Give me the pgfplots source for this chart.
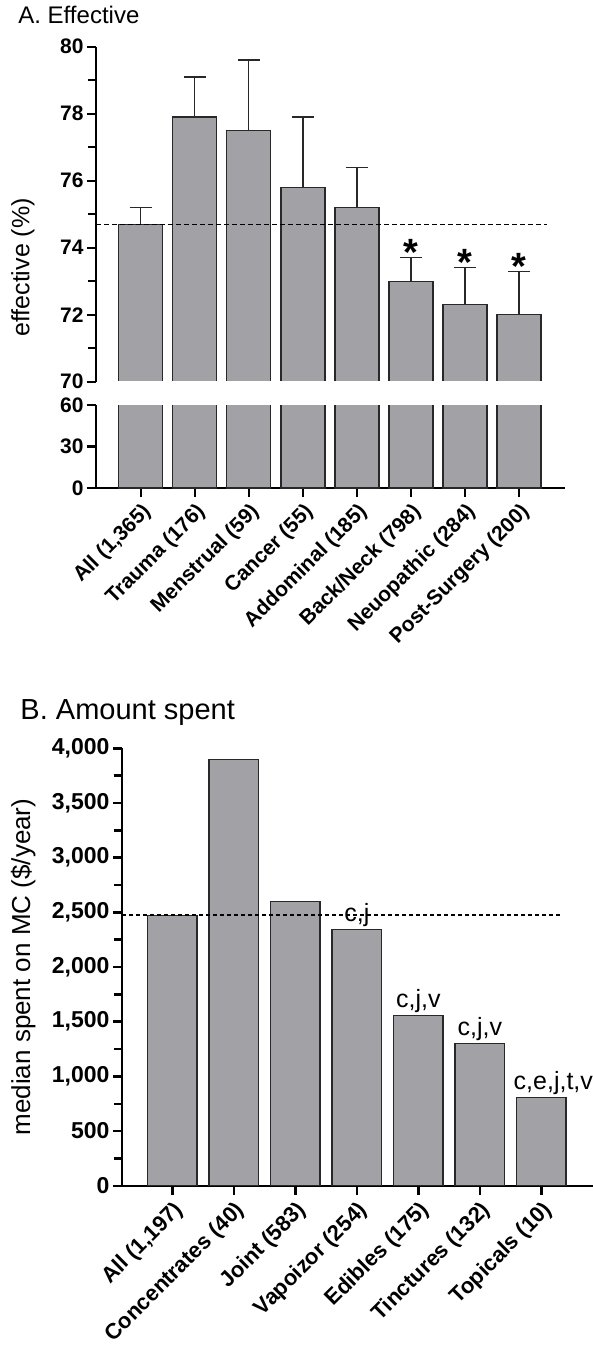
\documentclass[border=0pt]{standalone}
\usepackage{pgfplots}
\pgfplotsset{compat=1.18}
\usepackage{pgfplotstable}
\usepackage{fontspec}
\setmainfont{Liberation Sans}

\definecolor{barfill}{RGB}{161,161,166}
\definecolor{baredge}{RGB}{40,40,40}

% panel A: mean effective (%) and upper error
\pgfplotstableread{
x y e
0 74.7 0.5
1 77.9 1.2
2 77.5 2.1
3 75.8 2.1
4 75.2 1.2
5 73.0 0.7
6 72.3 1.1
7 72.0 1.3
}\dataA

% panel B: median spent
\pgfplotstableread{
x y
0 2470
1 3900
2 2600
3 2340
4 1555
5 1300
6 805
}\dataB

\pgfplotsset{
  panel/.style={
    scale only axis,
    axis line style={-, line width=2.4pt},
    every tick/.style={line width=2.4pt, black},
    tick align=outside,
    major tick length=9pt,
    minor tick length=8pt,
    /pgf/number format/assume math mode=true,
  },
  bars/.style={
    ybar, bar width=#1, fill=barfill, draw=baredge, line width=1.3pt,
  },
}

\begin{document}
\begin{tikzpicture}
\path[use as bounding box] (0pt,0pt) rectangle (593pt,-1353pt);

% ---- A, upper part (70-80)
\begin{axis}[panel,
  at={(96pt,-381.7pt)}, anchor=south west,
  width=469pt, height=335pt,
  xmin=-0.827, xmax=7.85, ymin=70, ymax=80,
  axis y line*=left, axis x line=none,
  ytick={70,72,...,80}, minor y tick num=1,
  yticklabel style={font=\fontsize{21}{21}\selectfont\bfseries},
  ylabel={effective (\%)},
  ylabel style={at={(axis description cs:-0.156,0.341)}, anchor=center,
    font=\fontsize{25}{25}\selectfont},
  title={A. Effective},
  title style={at={(axis description cs:-0.173,1.05)}, anchor=base west,
    font=\fontsize{24}{24}\selectfont},
]
\addplot[bars=44pt,
  error bars/.cd, y dir=plus, y explicit, error mark=|,
  error bar style={line width=1.3pt, baredge},
  error mark options={line width=1.3pt, mark size=11pt, baredge}]
  table[x=x, y=y, y error=e] {\dataA};
% the break: bars stay open at 70
\addplot[white, line width=1.6pt] coordinates {(-0.6,70) (7.6,70)};
\addplot[black, line width=1.4pt, dash pattern=on 5pt off 3pt]
  coordinates {(-0.827,74.7) (7.52,74.7)};
\addplot[draw=none, mark=none, nodes near coords, point meta=explicit symbolic,
  nodes near coords style={font=\fontsize{38}{38}\selectfont\bfseries,
    anchor=base, inner sep=0pt, yshift=-8pt}]
  table[meta=s] {
x y s
5 73.7 *
6 73.4 *
7 73.3 *
};
\end{axis}

% ---- A, lower part (0-60)
\begin{axis}[panel,
  at={(96pt,-488pt)}, anchor=south west,
  width=469pt, height=83pt,
  xmin=-0.827, xmax=7.85, ymin=0, ymax=60,
  axis y line*=left, axis x line*=bottom,
  ytick={0,30,60},
  xtick={0,...,7},
  xticklabels={{All (1,365)},{Trauma (176)},{Menstrual (59)},{Cancer (55)},
    {Addominal (185)},{Back/Neck (798)},{Neuopathic (284)},{Post-Surgery (200)}},
  yticklabel style={font=\fontsize{21}{21}\selectfont\bfseries},
  xticklabel style={rotate=45, anchor=north east,
    font=\fontsize{21}{21}\selectfont\bfseries},
]
\addplot[bars=44pt] table[x=x, y=y] {\dataA};
\end{axis}

% ---- B
\begin{axis}[panel,
  at={(122pt,-1185.7pt)}, anchor=south west,
  width=471pt, height=437.4pt,
  xmin=-0.818, xmax=6.84, ymin=0, ymax=4000,
  axis y line*=left, axis x line*=bottom,
  ytick={0,500,...,4000}, minor y tick num=1,
  /pgf/number format/.cd, 1000 sep={,}, /pgfplots/.cd,
  xtick={0,...,6},
  xticklabels={{All (1,197)},{Concentrates (40)},{Joint (583)},{Vapoizor (254)},
    {Edibles (175)},{Tinctures (132)},{Topicals (10)}},
  yticklabel style={font=\fontsize{23}{23}\selectfont\bfseries},
  xticklabel style={rotate=45, anchor=north east,
    font=\fontsize{22}{22}\selectfont\bfseries},
  ylabel={median spent on MC (\$/year)},
  ylabel style={at={(axis description cs:-0.21,0.5)}, anchor=center,
    font=\fontsize{26}{26}\selectfont},
  title={B. Amount spent},
  title style={at={(axis description cs:-0.223,1.053)}, anchor=base west,
    font=\fontsize{29}{29}\selectfont},
]
\addplot[bars=49.5pt] table[x=x, y=y] {\dataB};
\addplot[black, line width=1.2pt, dash pattern=on 4pt off 3pt]
  coordinates {(-0.818,2475) (6.35,2475)};
\addplot[draw=none, mark=none, nodes near coords, point meta=explicit symbolic,
  nodes near coords style={font=\fontsize{25}{25}\selectfont,
    anchor=base, inner sep=0pt, yshift=8pt}]
  table[meta=s] {
x y s
3 2340 {c,j}
4 1555 {c,j,v}
5 1300 {c,j,v}
};
\addplot[draw=none, mark=none, nodes near coords, point meta=explicit symbolic,
  nodes near coords style={font=\fontsize{25}{25}\selectfont,
    anchor=base, inner sep=0pt, yshift=8pt, xshift=12pt}]
  table[meta=s] {
x y s
6 805 {c,e,j,t,v}
};
\end{axis}
\end{tikzpicture}
\end{document}
